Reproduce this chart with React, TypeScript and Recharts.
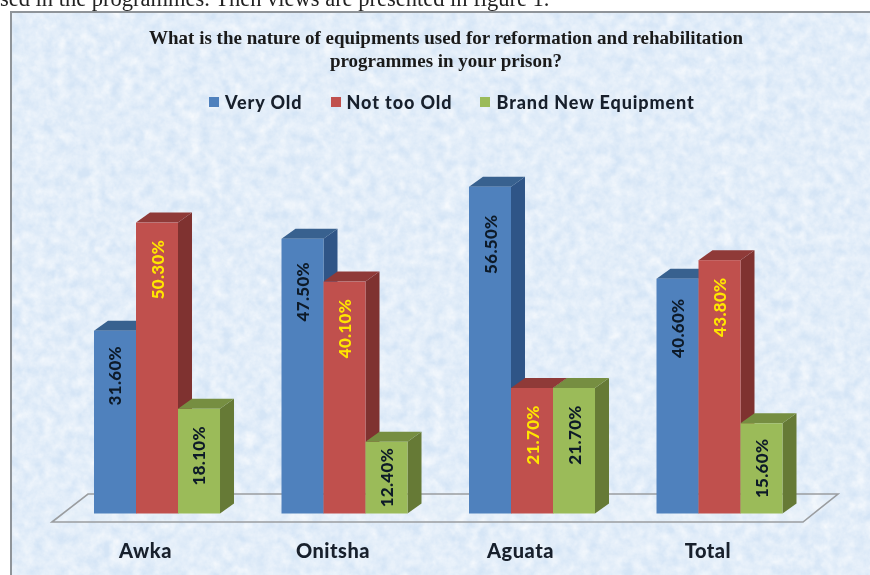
import React from "react";
import { BarChart, Bar, XAxis, YAxis, Legend, LabelList } from "recharts";

const categories = ["Awka", "Onitsha", "Aguata", "Total"];
const veryOld = [31.6, 47.5, 56.5, 40.6];
const notTooOld = [50.3, 40.1, 21.7, 43.8];
const brandNew = [18.1, 12.4, 21.7, 15.6];
const seriesNames = ["Very Old", "Not too Old", "Brand New Equipment"];
const titleLines = [
  "What is the nature of equipments used for reformation and rehabilitation",
  "programmes in your prison?",
];
const pageLine = "sed in the programmes. Then views are presented in figure 1.";

const rows = categories.map((name, i) => ({
  name,
  veryOld: veryOld[i],
  notTooOld: notTooOld[i],
  brandNew: brandNew[i],
}));

const DX = 14;
const DY = 10;
const LABEL_FONT = "Lato, 'Open Sans', sans-serif";

const palette = {
  veryOld: { front: "#4f81bd", side: "#2f5587", top: "#38618f" },
  notTooOld: { front: "#c0504d", side: "#7f3230", top: "#8f3a38" },
  brandNew: { front: "#9bbb59", side: "#667a36", top: "#768e41" },
};

function Box3D(props: any, c: { front: string; side: string; top: string }) {
  const { x, y, width, height } = props;
  return (
    <g>
      <polygon
        points={`${x + width},${y} ${x + width + DX},${y - DY} ${x + width + DX},${y + height - DY} ${x + width},${y + height}`}
        fill={c.side}
      />
      <polygon
        points={`${x},${y} ${x + DX},${y - DY} ${x + width + DX},${y - DY} ${x + width},${y}`}
        fill={c.top}
      />
      <rect x={x} y={y} width={width} height={height} fill={c.front} />
    </g>
  );
}

function makeLabel(color: string, extra: number) {
  return (props: any) => {
    const { x, y, width, height, value } = props;
    const inset = Math.min(47 + Math.max(0, (Number(value) - 31.6) * extra) - (extra ? 2 : 0), Number(height) / 2);
    const cx = Number(x) + Number(width) / 2;
    const cy = Number(y) + inset;
    return (
      <text
        x={cx}
        y={cy}
        transform={`rotate(-90 ${cx} ${cy})`}
        textAnchor="middle"
        dominantBaseline="central"
        fontFamily={LABEL_FONT}
        fontWeight={900}
        fontSize={17}
        letterSpacing={0.3}
        fill={color}
      >
        {Number(value).toFixed(2)}%
      </text>
    );
  };
}

function LegendRow(props: any) {
  const items = props.payload || [];
  return (
    <div
      style={{
        display: "flex",
        gap: 28,
        fontFamily: LABEL_FONT,
        fontWeight: 900,
        fontSize: 18,
        letterSpacing: 0.9,
        color: "#18202c",
        lineHeight: "20px",
      }}
    >
      {items.map((it: any) => (
        <div key={it.value} style={{ display: "flex", alignItems: "center", gap: 6 }}>
          <span style={{ width: 10, height: 10, background: it.color, display: "inline-block" }} />
          <span>{it.value}</span>
        </div>
      ))}
    </div>
  );
}

export default function App() {
  return (
    <div style={{ position: "fixed", left: 0, top: 0, width: 870, height: 575, overflow: "hidden", background: "#fff" }}>
      <div style={{ position: "absolute", inset: 0, filter: "blur(0.45px)" }}>
        <svg width={870} height={575} style={{ position: "absolute", left: 0, top: 0 }}>
          <defs>
            <filter id="marble" x="0" y="0" width="100%" height="100%">
              <feTurbulence type="fractalNoise" baseFrequency="0.09" numOctaves={4} seed={7} />
              <feColorMatrix
                type="matrix"
                values="0 0 0 0 1  0 0 0 0 1  0 0 0 0 1  0.8 0.6 0 0 -0.38"
              />
            </filter>
          </defs>
          <text x={0} y={6} fontFamily="'Liberation Serif', serif" fontSize={22.5} fill="#222">
            {pageLine}
          </text>
          <rect x={11} y={12} width={870} height={580} fill="#d5e5f6" stroke="#8f9499" strokeWidth={2} />
          <rect x={12} y={13} width={858} height={562} filter="url(#marble)" />
          <polygon points="52,522 88,494 838,494 803,522" fill="rgba(255,255,255,0.12)" stroke="#9a9da0" strokeWidth={1.6} />
        </svg>
        <div style={{ position: "absolute", left: 0, top: 0 }}>
          <BarChart
            width={870}
            height={575}
            data={rows}
            barGap={0}
            barCategoryGap="16.67%"
            margin={{ top: 146.5, right: 57.25, bottom: 0, left: 62.75 }}
          >
            <XAxis
              dataKey="name"
              height={61.5}
              axisLine={false}
              tickLine={false}
              interval={0}
              tick={{ fill: "#18202c", fontFamily: LABEL_FONT, fontWeight: 900, fontSize: 20, letterSpacing: 0.5, dx: -11 }}
              tickMargin={24}
            />
            <YAxis hide domain={[0, 60]} />
            <Legend
              verticalAlign="top"
              align="left"
              itemSorter={null as any}
              content={LegendRow}
              wrapperStyle={{ position: "absolute", left: 209, top: 92, width: 520 }}
            />
            <Bar
              dataKey="veryOld"
              name={seriesNames[0]}
              fill={palette.veryOld.front}
              isAnimationActive={false}
              shape={(p: any) => Box3D(p, palette.veryOld)}
            >
              <LabelList dataKey="veryOld" content={makeLabel("#0d1a28", 0.5)} />
            </Bar>
            <Bar
              dataKey="notTooOld"
              name={seriesNames[1]}
              fill={palette.notTooOld.front}
              isAnimationActive={false}
              shape={(p: any) => Box3D(p, palette.notTooOld)}
            >
              <LabelList dataKey="notTooOld" content={makeLabel("#ffe600", 0)} />
            </Bar>
            <Bar
              dataKey="brandNew"
              name={seriesNames[2]}
              fill={palette.brandNew.front}
              isAnimationActive={false}
              shape={(p: any) => Box3D(p, palette.brandNew)}
            >
              <LabelList dataKey="brandNew" content={makeLabel("#0d1a28", 0)} />
            </Bar>
            <text textAnchor="middle" fontFamily="'Liberation Serif', serif" fontWeight={700} fontSize={19} fill="#1a1a1a">
              <tspan x={446} y={44}>{titleLines[0]}</tspan>
              <tspan x={446} y={67}>{titleLines[1]}</tspan>
            </text>
          </BarChart>
        </div>
      </div>
    </div>
  );
}
